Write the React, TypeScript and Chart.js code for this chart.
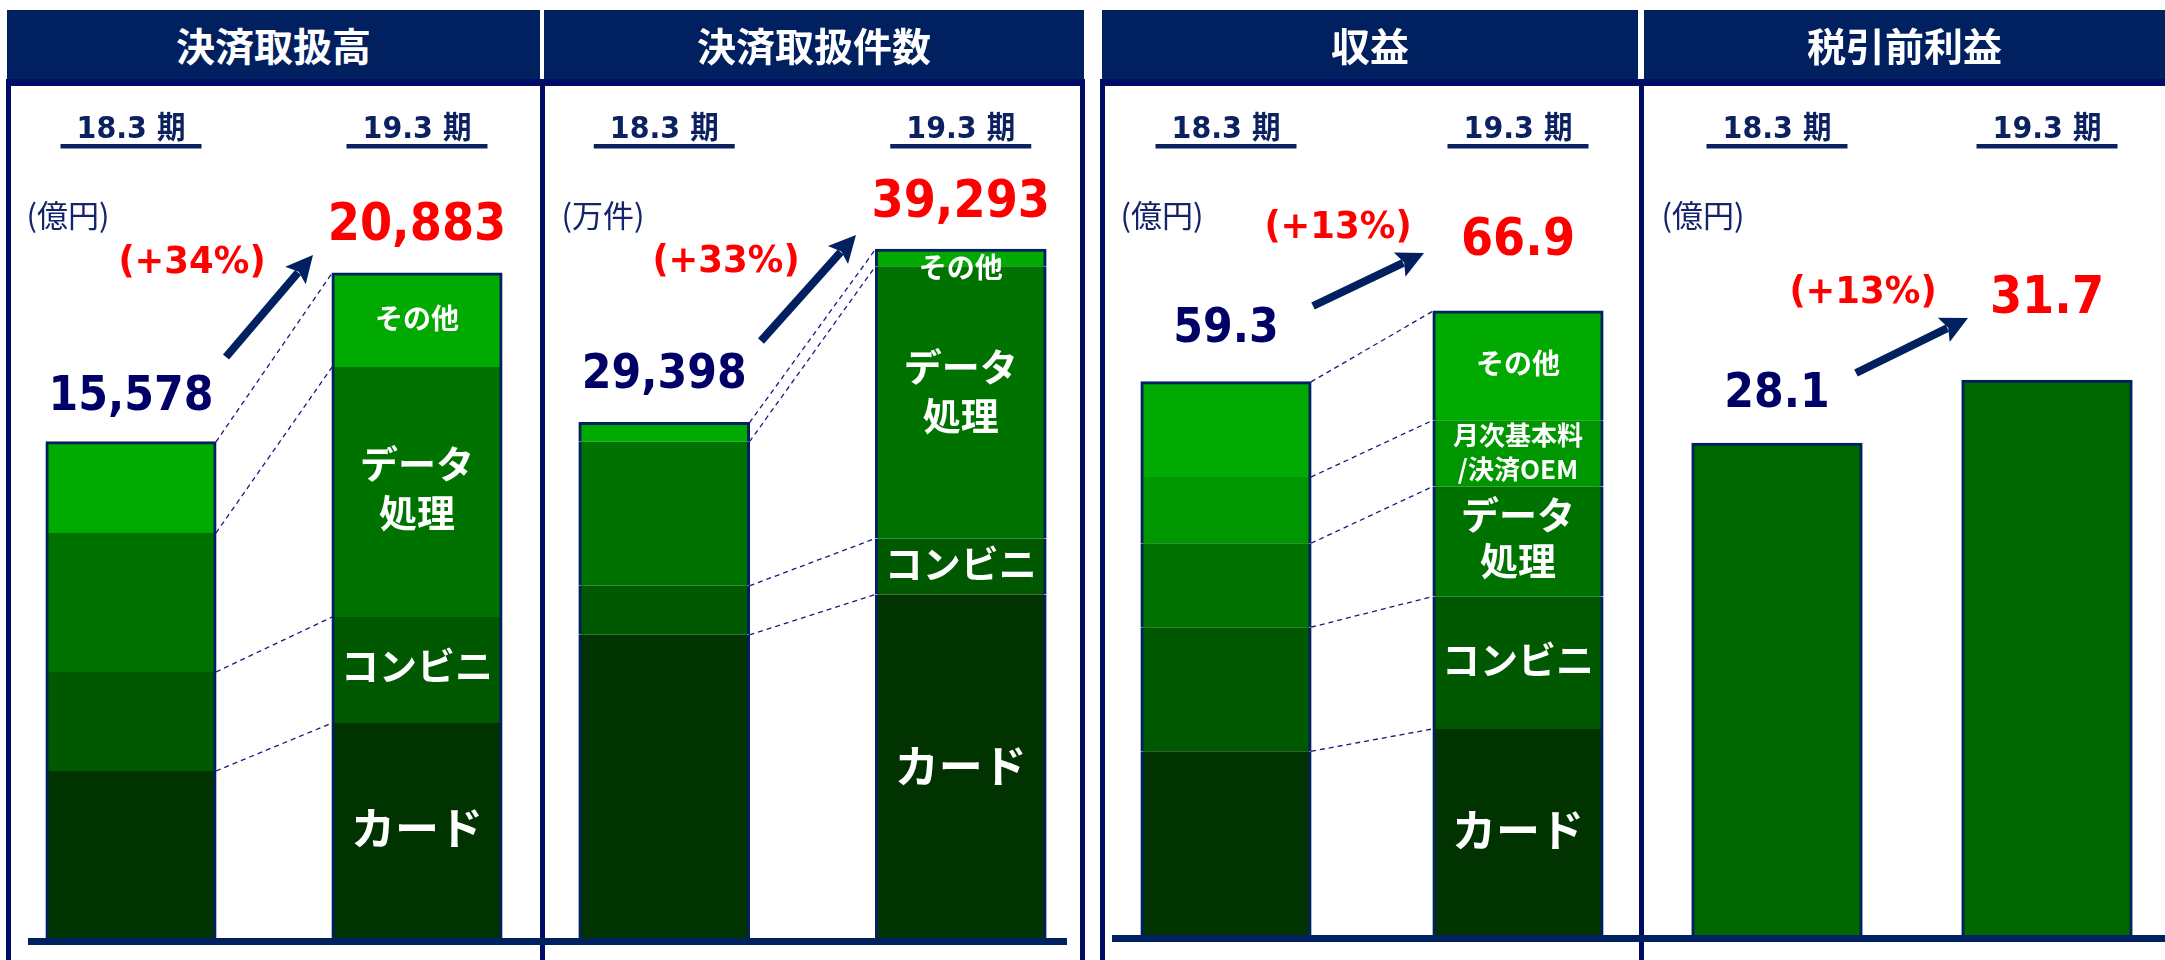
import React, { useEffect, useRef } from "react";
import { Chart, registerables } from "chart.js";

Chart.register(...registerables);

// ---------- data ----------
const periods = ["18.3 期", "19.3 期"];

// 決済取扱高 (億円)
const volumeSegments = ["カード", "コンビニ", "データ\n処理", "その他"];
const volumeCard = [5245, 6751];
const volumeConv = [3109, 3329];
const volumeData = [4365, 7850];
const volumeOther = [2859, 2953];
const volumeTotals = [15578, 20883];
const volumeGrowth = "(+34%)";

// 決済取扱件数 (万件)
const countSegments = ["カード", "コンビニ", "データ\n処理", "その他"];
const countCard = [17295, 19601];
const countConv = [2797, 3196];
const countData = [8220, 15526];
const countOther = [1086, 970];
const countTotals = [29398, 39293];
const countGrowth = "(+33%)";

// 収益 (億円)
const revenueSegments = ["カード", "コンビニ", "データ\n処理", "月次基本料\n/決済OEM", "その他"];
const revenueCard = [19.7, 22.1];
const revenueConv = [13.3, 14.2];
const revenueData = [9.0, 11.8];
const revenueMonthly = [7.1, 7.1];
const revenueOther = [10.2, 11.7];
const revenueTotals = [59.3, 66.9];
const revenueGrowth = "(+13%)";

// 税引前利益 (億円)
const profitValues = [28.1, 31.7];
const profitGrowth = "(+13%)";

// ---------- styles ----------
const HEADER_BG = "#002060";
const BORDER = "#000c66";
const BASELINE = "#002060";
const PERIOD = "#0c2260";
const UNIT = "#13246a";
const NAVY_TEXT = "#000066";
const RED = "#ff0000";
const ARROW = "#002060";
const NUM = "'DejaVu Sans', 'Noto Sans CJK JP', sans-serif";
const JP = "'Noto Sans CJK JP', sans-serif";

const C_CARD = "#003300";
const C_CONV = "#005800";
const C_DATA = "#007200";
const C_MONTH = "#009600";
const C_OTHER = "#00aa00";
const C_PROFIT = "#006600";

const fmtInt = (v: number) => v.toLocaleString("en-US");
const fmt1 = (v: number) => v.toFixed(1);

type Seg = { label: string; data: number[]; color: string; font?: number; dy?: number; gap?: number };
type PanelCfg = {
  title: string;
  unit: string;
  left: number;
  width: number;
  height: number;
  yMax: number;
  barPct: number;
  segs: Seg[];
  showSegLabels: boolean;
  connectors: boolean;
  totals: string[];
  growth: string;
  navyGap: number;
  redGap: number;
  growthPos: [number, number];
  arrow: [number, number, number, number];
  unitPos: [number, number];
};

const panels: PanelCfg[] = [
  {
    title: "決済取扱高",
    unit: "(億円)",
    left: -12,
    width: 572,
    height: 938,
    yMax: 29458,
    barPct: 0.594,
    segs: [
      { label: volumeSegments[0], data: volumeCard, color: C_CARD, font: 44, dy: -2 },
      { label: volumeSegments[1], data: volumeConv, color: C_CONV, font: 38, dy: -4 },
      { label: volumeSegments[2], data: volumeData, color: C_DATA, font: 38, dy: -4, gap: 49 },
      { label: volumeSegments[3], data: volumeOther, color: C_OTHER, font: 28, dy: -2 },
    ],
    showSegLabels: true,
    connectors: true,
    totals: volumeTotals.map(fmtInt),
    growth: volumeGrowth,
    navyGap: 32,
    redGap: 33,
    growthPos: [192, 273],
    arrow: [226, 357, 313, 255],
    unitPos: [68, 215],
  },
  {
    title: "決済取扱件数",
    unit: "(万件)",
    left: 516,
    width: 593,
    height: 938,
    yMax: 53513,
    barPct: 0.575,
    segs: [
      { label: countSegments[0], data: countCard, color: C_CARD, font: 44, dy: 0 },
      { label: countSegments[1], data: countConv, color: C_CONV, font: 38, dy: -3 },
      { label: countSegments[2], data: countData, color: C_DATA, font: 38, dy: -11, gap: 49 },
      { label: countSegments[3], data: countOther, color: C_OTHER, font: 28, dy: 10 },
    ],
    showSegLabels: true,
    connectors: true,
    totals: countTotals.map(fmtInt),
    growth: countGrowth,
    navyGap: 35,
    redGap: 32,
    growthPos: [726, 272],
    arrow: [761, 341, 856, 235],
    unitPos: [603, 215],
  },
  {
    title: "収益",
    unit: "(億円)",
    left: 1080,
    width: 584,
    height: 935,
    yMax: 100.25,
    barPct: 0.582,
    segs: [
      { label: revenueSegments[0], data: revenueCard, color: C_CARD, font: 44, dy: -2 },
      { label: revenueSegments[1], data: revenueConv, color: C_CONV, font: 38, dy: -3 },
      { label: revenueSegments[2], data: revenueData, color: C_DATA, font: 38, dy: -4, gap: 46 },
      { label: revenueSegments[3], data: revenueMonthly, color: C_MONTH, font: 26, dy: -1, gap: 34 },
      { label: revenueSegments[4], data: revenueOther, color: C_OTHER, font: 28, dy: -2 },
    ],
    showSegLabels: true,
    connectors: true,
    totals: revenueTotals.map(fmt1),
    growth: revenueGrowth,
    navyGap: 40,
    redGap: 56,
    growthPos: [1338, 238],
    arrow: [1313, 306, 1424, 253],
    unitPos: [1162, 215],
  },
  {
    title: "税引前利益",
    unit: "(億円)",
    left: 1642,
    width: 540,
    height: 935,
    yMax: 53.45,
    barPct: 0.63,
    segs: [{ label: "税引前利益", data: profitValues, color: C_PROFIT }],
    showSegLabels: false,
    connectors: false,
    totals: profitValues.map(fmt1),
    growth: profitGrowth,
    navyGap: 36,
    redGap: 67,
    growthPos: [1863, 303],
    arrow: [1856, 373, 1968, 318],
    unitPos: [1703, 215],
  },
];

function drawText(
  ctx: CanvasRenderingContext2D,
  text: string,
  x: number,
  y: number,
  font: string,
  color: string,
  sx = 1,
  align: CanvasTextAlign = "center",
  baseline: CanvasTextBaseline = "alphabetic"
) {
  ctx.save();
  ctx.translate(x, y);
  ctx.scale(sx, 1);
  ctx.font = font;
  ctx.fillStyle = color;
  ctx.textAlign = align;
  ctx.textBaseline = baseline;
  ctx.fillText(text, 0, 0);
  ctx.restore();
}

function drawArrow(ctx: CanvasRenderingContext2D, x1: number, y1: number, x2: number, y2: number) {
  const ang = Math.atan2(y2 - y1, x2 - x1);
  const c = Math.cos(ang);
  const s = Math.sin(ang);
  const headLen = 27;
  const half = 13.5;
  const bx = x2 - headLen * c;
  const by = y2 - headLen * s;
  ctx.save();
  ctx.strokeStyle = ARROW;
  ctx.fillStyle = ARROW;
  ctx.lineWidth = 8;
  ctx.lineCap = "butt";
  ctx.beginPath();
  ctx.moveTo(x1, y1);
  ctx.lineTo(bx + 4 * c, by + 4 * s);
  ctx.stroke();
  ctx.beginPath();
  ctx.moveTo(x2, y2);
  ctx.lineTo(bx + half * s, by - half * c);
  ctx.lineTo(bx + 5 * c, by + 5 * s);
  ctx.lineTo(bx - half * s, by + half * c);
  ctx.closePath();
  ctx.fill();
  ctx.restore();
}

function makePlugin(cfg: PanelCfg) {
  return {
    id: "annotations",
    afterDatasetsDraw(chart: any) {
      const ctx: CanvasRenderingContext2D = chart.ctx;
      const X = (x: number) => x - cfg.left;
      const xs = chart.scales.x;
      const metas = chart.data.datasets.map((_: any, i: number) => chart.getDatasetMeta(i));
      const topBars = metas[metas.length - 1].data;
      ctx.save();

      // period labels with underline
      periods.forEach((p, i) => {
        const cx = xs.getPixelForValue(i);
        drawText(ctx, p, cx, 138, `bold 31px ${NUM}`, PERIOD, 0.92);
        ctx.fillStyle = PERIOD;
        ctx.fillRect(cx - 70.5, 144, 141, 4.5);
      });

      // unit
      drawText(ctx, cfg.unit, X(cfg.unitPos[0]), cfg.unitPos[1], `31px ${JP}`, UNIT, 1, "center", "middle");

      // dashed connectors
      if (cfg.connectors) {
        ctx.save();
        ctx.setLineDash([5, 4]);
        ctx.lineWidth = 1.3;
        ctx.strokeStyle = "#1a1a80";
        metas.forEach((m: any) => {
          const a = m.data[0];
          const b = m.data[1];
          ctx.beginPath();
          ctx.moveTo(a.x + a.width / 2, a.y);
          ctx.lineTo(b.x - b.width / 2, b.y);
          ctx.stroke();
        });
        ctx.restore();
      }

      // segment labels on the second bar
      if (cfg.showSegLabels) {
        cfg.segs.forEach((seg, i) => {
          const el = metas[i].data[1];
          const lines = seg.label.split("\n");
          const gap = seg.gap || 0;
          const cy = (el.y + el.base) / 2 + (seg.dy || 0);
          lines.forEach((ln, k) => {
            const y = cy + (k - (lines.length - 1) / 2) * gap;
            drawText(ctx, ln, el.x, y, `bold ${seg.font}px ${JP}`, "#ffffff", 1, "center", "middle");
          });
        });
      }

      // totals
      drawText(ctx, cfg.totals[0], topBars[0].x, topBars[0].y - cfg.navyGap, `bold 48px ${NUM}`, NAVY_TEXT, 0.89);
      drawText(ctx, cfg.totals[1], topBars[1].x, topBars[1].y - cfg.redGap, `bold 52px ${NUM}`, RED, 0.89);

      // growth + arrow
      drawText(ctx, cfg.growth, X(cfg.growthPos[0]), cfg.growthPos[1], `bold 37px ${NUM}`, RED, 0.96);
      const [ax1, ay1, ax2, ay2] = cfg.arrow;
      drawArrow(ctx, X(ax1), ay1, X(ax2), ay2);

      ctx.restore();
    },
  };
}

function PanelChart({ cfg }: { cfg: PanelCfg }) {
  const ref = useRef<HTMLCanvasElement | null>(null);
  useEffect(() => {
    if (!ref.current) return;
    const n = cfg.segs.length;
    const chart = new Chart(ref.current, {
      type: "bar",
      data: {
        labels: periods,
        datasets: cfg.segs.map((s, i) => ({
          label: s.label,
          data: s.data,
          backgroundColor: s.color,
          borderColor: HEADER_BG,
          borderSkipped: false,
          borderWidth: { left: 3, right: 3, top: i === n - 1 ? 3 : 0, bottom: 0 },
          inflateAmount: 0.6,
          categoryPercentage: 1,
          barPercentage: cfg.barPct,
        })),
      },
      options: {
        responsive: false,
        animation: false,
        devicePixelRatio: 1,
        layout: { padding: 0 },
        plugins: {
          legend: { display: false },
          tooltip: { enabled: false },
          title: { display: false },
        },
        scales: {
          x: { stacked: true, display: false, offset: true },
          y: { stacked: true, display: false, min: 0, max: cfg.yMax },
        },
      },
      plugins: [makePlugin(cfg)],
    } as any);
    return () => chart.destroy();
  }, [cfg]);
  return (
    <canvas
      ref={ref}
      width={cfg.width}
      height={cfg.height}
      style={{ position: "absolute", left: cfg.left, top: 0, width: cfg.width, height: cfg.height, display: "block" }}
    />
  );
}

const abs = (left: number, top: number, width: number, height: number, bg: string): React.CSSProperties => ({
  position: "absolute",
  left,
  top,
  width,
  height,
  background: bg,
});

export default function App() {
  const headers = [
    { x: 7, w: 533, t: panels[0].title },
    { x: 544, w: 540, t: panels[1].title },
    { x: 1102, w: 536, t: panels[2].title },
    { x: 1644, w: 521, t: panels[3].title },
  ];
  return (
    <div
      style={{
        position: "absolute",
        left: 0,
        top: 0,
        width: 2165,
        height: 960,
        overflow: "hidden",
        background: "#ffffff",
      }}
    >
      {panels.map((p) => (
        <PanelChart key={p.title} cfg={p} />
      ))}
      {headers.map((h) => (
        <div
          key={h.t}
          style={{
            ...abs(h.x, 10, h.w, 69, HEADER_BG),
            color: "#ffffff",
            display: "flex",
            alignItems: "center",
            justifyContent: "center",
            fontFamily: JP,
            fontWeight: 700,
            fontSize: 39,
            lineHeight: 1,
          }}
        >
          {h.t}
        </div>
      ))}
      {/* left pair frame */}
      <div style={abs(6, 79, 1079, 7, BORDER)} />
      <div style={abs(6, 79, 5, 900, BORDER)} />
      <div style={abs(1080, 79, 5, 900, BORDER)} />
      <div style={abs(540, 79, 5, 900, BORDER)} />
      <div style={abs(28, 938, 1039, 7, BASELINE)} />
      {/* right pair frame */}
      <div style={abs(1100, 79, 1065, 7, BORDER)} />
      <div style={abs(1100, 79, 5, 900, BORDER)} />
      <div style={abs(1639, 79, 5, 900, BORDER)} />
      <div style={abs(1112, 935, 1053, 7, BASELINE)} />
    </div>
  );
}
